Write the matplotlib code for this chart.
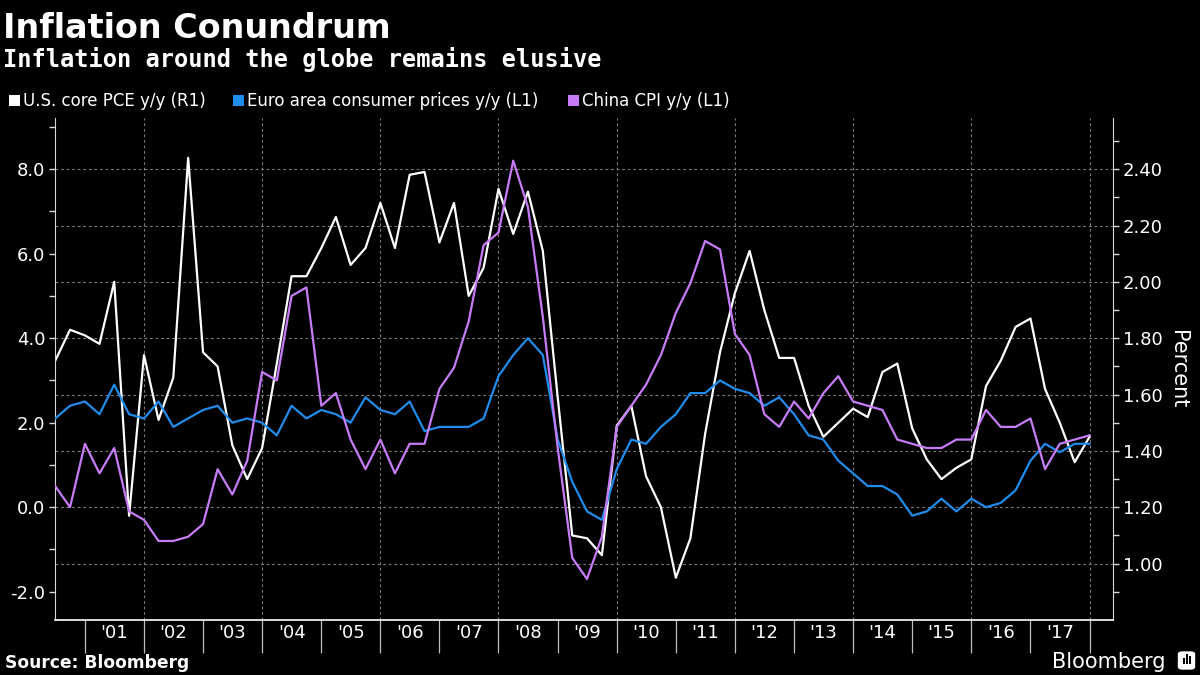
import numpy as np
import pandas as pd
import matplotlib
matplotlib.use("Agg")
import matplotlib.pyplot as plt
import matplotlib.dates as mdates
from matplotlib.patches import Rectangle, FancyBboxPatch

# ---------------- data (quarterly, Q2 2000 .. Q4 2017) ----------------
quarters = pd.period_range("2000Q2", "2017Q4", freq="Q").to_timestamp(how="end")

us_core_pce = [1.72, 1.83, 1.81, 1.78, 2.00, 1.17, 1.74, 1.51, 1.66, 2.44,
               1.75, 1.70, 1.42, 1.30, 1.41, 1.71, 2.02, 2.02, 2.12, 2.23,
               2.06, 2.12, 2.28, 2.12, 2.38, 2.39, 2.14, 2.28, 1.95, 2.05,
               2.33, 2.17, 2.32, 2.11, 1.59, 1.10, 1.09, 1.03, 1.49, 1.56,
               1.31, 1.20, 0.95, 1.09, 1.46, 1.75, 1.96, 2.11, 1.90, 1.73,
               1.73, 1.56, 1.45, 1.50, 1.55, 1.52, 1.68, 1.71, 1.48, 1.37,
               1.30, 1.34, 1.37, 1.63, 1.72, 1.84, 1.87, 1.62, 1.50, 1.36,
               1.45]

euro_cpi = [2.1, 2.4, 2.5, 2.2, 2.9, 2.2, 2.1, 2.5, 1.9, 2.1,
            2.3, 2.4, 2.0, 2.1, 2.0, 1.7, 2.4, 2.1, 2.3, 2.2,
            2.0, 2.6, 2.3, 2.2, 2.5, 1.8, 1.9, 1.9, 1.9, 2.1,
            3.1, 3.6, 4.0, 3.6, 1.6, 0.6, -0.1, -0.3, 0.9, 1.6,
            1.5, 1.9, 2.2, 2.7, 2.7, 3.0, 2.8, 2.7, 2.4, 2.6,
            2.2, 1.7, 1.6, 1.1, 0.8, 0.5, 0.5, 0.3, -0.2, -0.1,
            0.2, -0.1, 0.2, 0.0, 0.1, 0.4, 1.1, 1.5, 1.3, 1.5,
            1.5]

china_cpi = [0.5, 0.0, 1.5, 0.8, 1.4, -0.1, -0.3, -0.8, -0.8, -0.7,
             -0.4, 0.9, 0.3, 1.1, 3.2, 3.0, 5.0, 5.2, 2.4, 2.7,
             1.6, 0.9, 1.6, 0.8, 1.5, 1.5, 2.8, 3.3, 4.4, 6.2,
             6.5, 8.2, 7.1, 4.5, 1.4, -1.2, -1.7, -0.7, 1.9, 2.4,
             2.9, 3.6, 4.6, 5.3, 6.3, 6.1, 4.1, 3.6, 2.2, 1.9,
             2.5, 2.1, 2.7, 3.1, 2.5, 2.4, 2.3, 1.6, 1.5, 1.4,
             1.4, 1.6, 1.6, 2.3, 1.9, 1.9, 2.1, 0.9, 1.5, 1.6,
             1.7]

series_names = ["U.S. core PCE y/y (R1)",
                "Euro area consumer prices y/y (L1)",
                "China CPI y/y (L1)"]
series_colors = ["#ffffff", "#1f8ceb", "#c77cf7"]

tick_years = list(range(2001, 2018))
year_labels = ["'%02d" % (y % 100) for y in tick_years]
left_ticks = [-2.0, 0.0, 2.0, 4.0, 6.0, 8.0]
left_minor = [-1, 1, 3, 5, 7, 9]
right_ticks = [1.00, 1.20, 1.40, 1.60, 1.80, 2.00, 2.20, 2.40]
right_minor = [0.9, 1.1, 1.3, 1.5, 1.7, 1.9, 2.1, 2.3, 2.5]

# ---------------- figure ----------------
W, H = 1200, 675
fig = plt.figure(figsize=(12, 6.75), dpi=100, facecolor="black")

ax_l, ax_r, ax_t, ax_b = 55, 1113, 118, 620
ax = fig.add_axes([ax_l / W, 1 - ax_b / H, (ax_r - ax_l) / W, (ax_b - ax_t) / H])
ax2 = ax.twinx()
ax2.set_zorder(ax.get_zorder() - 1)
ax.patch.set_visible(False)
ax2.patch.set_visible(False)

lw = 1.6
ax2.plot(quarters, us_core_pce, color=series_colors[0], lw=lw, zorder=3)
ax.plot(quarters, euro_cpi, color=series_colors[1], lw=lw, zorder=3)
ax.plot(quarters, china_cpi, color=series_colors[2], lw=lw, zorder=4)

ax.set_ylim(-2.67, 9.21)
ax2.set_ylim(0.80, 2.5815)
ax.set_xlim(pd.Timestamp("2000-06-30"), pd.Timestamp("2018-05-26"))

spine_c = "#d8d8d8"
for a in (ax, ax2):
    a.spines["top"].set_visible(False)
ax.spines["right"].set_visible(False)
ax2.spines["left"].set_visible(False)
ax2.spines["bottom"].set_visible(False)
ax.spines["left"].set_color(spine_c)
ax.spines["bottom"].set_color("#ffffff")
ax2.spines["right"].set_color(spine_c)
ax.spines["bottom"].set_linewidth(1.2)

# x ticks: year separators (major), labels mid-year (minor)
year_starts = [pd.Timestamp(f"{y}-01-01") for y in tick_years + [2018]]
mids = [pd.Timestamp(f"{y}-07-02") for y in tick_years]
ax.set_xticks(year_starts)
ax.set_xticklabels([""] * len(year_starts))
ax.set_xticks(mids, minor=True)
ax.set_xticklabels(year_labels, minor=True)
ax.tick_params(axis="x", which="major", length=24, width=0.9, color="#bdbdbd", direction="out")
ax.tick_params(axis="x", which="minor", length=0, pad=3, labelsize=13, labelcolor="white")

# left y
ax.set_yticks(left_ticks)
ax.set_yticklabels([f"{v:.1f}" for v in left_ticks])
ax.set_yticks(left_minor, minor=True)
ax.tick_params(axis="y", which="both", length=4, width=1, color=spine_c, labelsize=13,
               labelcolor="white", pad=3)

# right y
ax2.set_yticks(right_ticks)
ax2.set_yticklabels([f"{v:.2f}" for v in right_ticks])
ax2.set_yticks(right_minor, minor=True)
ax2.tick_params(axis="y", which="both", length=4, width=1, color=spine_c, labelsize=13,
                labelcolor="white", pad=3)
ax2.set_ylabel("Percent", rotation=270, color="white", fontsize=15, labelpad=18)

# grid
grid_kw = dict(color="#7a7a7a", lw=0.8, linestyle=(0, (2.5, 2.5)))
ax2.yaxis.grid(True, which="major", **grid_kw)
ax2.set_axisbelow(True)
for y in range(2002, 2019, 2):
    ax2.axvline(pd.Timestamp(f"{y}-01-01"), zorder=0.5, **grid_kw)

# ---------------- texts ----------------
fig.text(3 / W, 1 - 38 / H, "Inflation Conundrum", color="white", fontsize=24,
         fontweight="bold", family="DejaVu Sans", va="baseline", ha="left")
fig.text(3 / W, 1 - 67 / H, "Inflation around the globe remains elusive", color="white",
         fontsize=17, fontweight="bold", family="DejaVu Sans Mono", va="baseline", ha="left")

leg_x = [9, 233, 568]
for x0, name, col in zip(leg_x, series_names, series_colors):
    fig.add_artist(Rectangle((x0 / W, 1 - 106 / H), 11 / W, 11 / H,
                             transform=fig.transFigure, facecolor=col, edgecolor="none"))
    fig.text((x0 + 14) / W, 1 - 100.5 / H, name, color="white", fontsize=12,
             va="center", ha="left")

fig.text(5 / W, 1 - 668 / H, "Source: Bloomberg", color="white", fontsize=12.3,
         fontweight="bold", va="baseline", ha="left")
fig.text(1166 / W, 1 - 668 / H, "Bloomberg", color="white", fontsize=15,
         va="baseline", ha="right")
fig.add_artist(FancyBboxPatch((1179 / W, 1 - 669 / H), 15 / W, 17 / H,
                              boxstyle="round,pad=0.001,rounding_size=0.004",
                              transform=fig.transFigure, facecolor="white", edgecolor="none"))
for bx, bh in zip([1183, 1186, 1189], [6, 10, 8]):
    fig.add_artist(Rectangle((bx / W, 1 - 664 / H), 1.6 / W, bh / H,
                             transform=fig.transFigure, facecolor="black", edgecolor="none"))

fig.savefig("out.png", dpi=100, facecolor="black")
